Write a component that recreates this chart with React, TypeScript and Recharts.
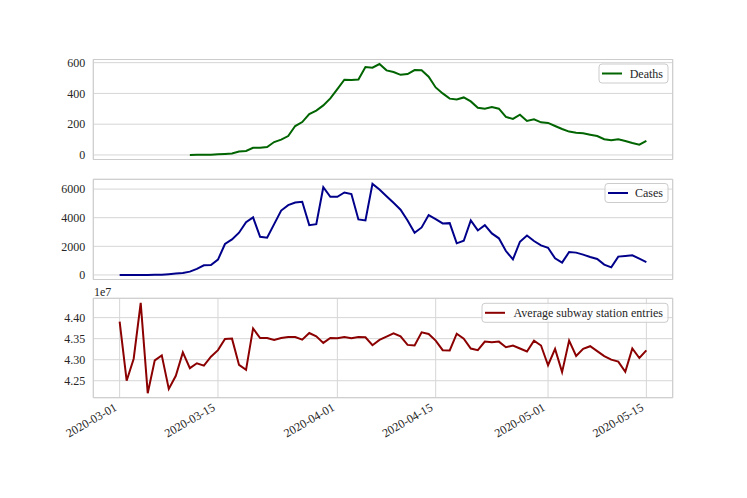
import React from "react";
import {
  LineChart,
  Line,
  XAxis,
  YAxis,
  CartesianGrid,
  ReferenceArea,
} from "recharts";

// ---------- data ----------
const startDate = "2020-03-01";
const dayCount = 76;

const xTickLabels = [
  "2020-03-01",
  "2020-03-15",
  "2020-04-01",
  "2020-04-15",
  "2020-05-01",
  "2020-05-15",
];

// Deaths begin on 2020-03-11 (first 10 days missing)
const deaths: (number | null)[] = [
  null, null, null, null, null, null, null, null, null, null,
  0, 1, 1, 2, 4, 7, 10, 23, 26, 47,
  47, 52, 84, 100, 123, 188, 214, 266, 288, 322,
  368, 428, 489, 487, 491, 571, 567, 591, 550, 539,
  521, 526, 552, 550, 509, 439, 400, 366, 361, 374,
  348, 307, 301, 312, 301, 247, 234, 262, 221, 232,
  212, 208, 188, 169, 152, 145, 141, 132, 123, 102,
  95, 102, 91, 78, 67, 91,
];

const cases: number[] = [
  0, 0, 1, 2, 3, 5, 8, 50, 100, 130,
  230, 420, 670, 700, 1070, 2160, 2485, 2950, 3690, 4020,
  2670, 2600, 3550, 4500, 4880, 5060, 5110, 3480, 3550, 6130,
  5460, 5460, 5760, 5650, 3880, 3810, 6365, 5970, 5500, 5040,
  4560, 3810, 2950, 3320, 4180, 3900, 3600, 3620, 2210, 2390,
  3810, 3110, 3480, 2900, 2560, 1670, 1090, 2320, 2760, 2370,
  2070, 1900, 1160, 860, 1600, 1560, 1420, 1250, 1120, 720,
  530, 1280, 1320, 1370, 1140, 900,
];

const subway: number[] = [
  43907000, 42500000, 43024000, 44352000, 42204000, 42985000, 43102000, 42305000, 42618000, 43173000,
  42798000, 42915000, 42860000, 43071000, 43227000, 43493000, 43501000, 42876000, 42759000, 43743000,
  43516000, 43516000, 43470000, 43516000, 43540000, 43540000, 43477000, 43634000, 43555000, 43400000,
  43516000, 43508000, 43540000, 43508000, 43540000, 43532000, 43345000, 43470000, 43548000, 43626000,
  43555000, 43352000, 43337000, 43649000, 43610000, 43454000, 43227000, 43220000, 43618000, 43501000,
  43266000, 43227000, 43430000, 43415000, 43430000, 43297000, 43337000, 43266000, 43196000, 43454000,
  43337000, 42868000, 43258000, 42704000, 43454000, 43087000, 43258000, 43321000, 43204000, 43087000,
  43001000, 42954000, 42712000, 43266000, 43040000, 43220000,
];

const deathsTicks = [0, 200, 400, 600];
const casesTicks = [0, 2000, 4000, 6000];
const subwayTicks = [42500000, 43000000, 43500000, 44000000];

const deathsName = "Deaths";
const casesName = "Cases";
const subwayName = "Average subway station entries";

// ---------- helpers ----------
const DAY = 86400000;
const t0 = Date.parse(startDate + "T00:00:00Z");
const xs = Array.from({ length: dayCount }, (_, i) => t0 + i * DAY);
const xTickValues = xTickLabels.map((d) => Date.parse(d + "T00:00:00Z"));
const fmtDate = (v: number) => new Date(v).toISOString().slice(0, 10);

const rows = xs.map((x, i) => ({
  x,
  deaths: deaths[i],
  cases: cases[i],
  subway: subway[i],
}));

function padDomain(vals: (number | null)[]): [number, number] {
  const v = vals.filter((a): a is number => a != null);
  const mn = Math.min(...v);
  const mx = Math.max(...v);
  const p = (mx - mn) * 0.05;
  return [mn - p, mx + p];
}
const xMin = xs[0];
const xMax = xs[xs.length - 1];
const xPad = (xMax - xMin) * 0.05;
const xDomain: [number, number] = [xMin - xPad, xMax + xPad];

// ---------- layout ----------
const W = 747;
const H = 498;
const PLOT_LEFT = 93.3;
const PLOT_RIGHT = 672.7;
const FONT = "'Liberation Serif', 'Times New Roman', serif";
const TEXT = "#262626";
const GRID = "#d6d6d6";
const SPINE = "#cccccc";

type PanelProps = {
  dataKey: string;
  color: string;
  ticks: number[];
  fmt: (v: number) => string;
  top: number;
  bottom: number;
  showX: boolean;
  domain: [number, number];
};

const DateTick = (props: any) => {
  const { x, y, payload } = props;
  const px = x - 2;
  const py = y + 12;
  return (
    <text
      x={px}
      y={py}
      transform={`rotate(-30, ${px}, ${py})`}
      textAnchor="end"
      fontSize={12}
      fontFamily={FONT}
      fill={TEXT}
    >
      {fmtDate(payload.value)}
    </text>
  );
};

function Panel({ dataKey, color, ticks, fmt, top, bottom, showX, domain }: PanelProps) {
  const xAxisH = showX ? 60 : 0;
  const chartH = showX ? H : bottom + 6;
  return (
    <div style={{ position: "absolute", left: 0, top: 0, width: W, height: chartH }}>
      <LineChart
        width={W}
        height={chartH}
        data={rows}
        margin={{ top, right: W - PLOT_RIGHT, left: 0, bottom: chartH - bottom - xAxisH }}
      >
        <CartesianGrid stroke={GRID} strokeWidth={1} />
        <XAxis
          dataKey="x"
          type="number"
          domain={xDomain}
          ticks={xTickValues}
          allowDataOverflow
          height={xAxisH}
          axisLine={false}
          tickLine={false}
          tickSize={0}
          tickMargin={0}
          tick={showX ? <DateTick /> : false}
          interval={0}
        />
        <YAxis
          type="number"
          domain={domain}
          ticks={ticks}
          allowDataOverflow
          width={PLOT_LEFT}
          axisLine={false}
          tickLine={false}
          tickSize={0}
          tickMargin={8}
          tickFormatter={fmt}
          interval={0}
          tick={{ fontSize: 12, fontFamily: FONT, fill: TEXT }}
        />
        <ReferenceArea
          x1={xDomain[0]}
          x2={xDomain[1]}
          y1={domain[0]}
          y2={domain[1]}
          fill="none"
          stroke={SPINE}
          strokeWidth={1}
          ifOverflow="visible"
        />
        <Line
          type="linear"
          dataKey={dataKey}
          stroke={color}
          strokeWidth={2}
          dot={false}
          isAnimationActive={false}
          connectNulls={false}
        />
      </LineChart>
    </div>
  );
}

function LegendBox({
  top,
  left,
  name,
  color,
}: {
  top: number;
  left: number;
  name: string;
  color: string;
}) {
  const right = 668;
  return (
    <g>
      <rect
        x={left}
        y={top}
        width={right - left}
        height={19}
        rx={3}
        ry={3}
        fill="#ffffff"
        fillOpacity={0.8}
        stroke="#cccccc"
        strokeWidth={1}
      />
      <line x1={left + 3} x2={left + 23} y1={top + 9.5} y2={top + 9.5} stroke={color} strokeWidth={2} />
      <text
        x={right - 5}
        y={top + 13.5}
        textAnchor="end"
        fontSize={12}
        fontFamily={FONT}
        fill={TEXT}
      >
        {name}
      </text>
    </g>
  );
}

export default function App() {
  const dDomain = padDomain(deaths);
  const cDomain = padDomain(cases);
  const sDomain = padDomain(subway);
  return (
    <div
      style={{
        position: "fixed",
        left: 0,
        top: 0,
        width: W,
        height: H,
        background: "#ffffff",
        overflow: "hidden",
      }}
    >
      <Panel
        dataKey="deaths"
        color="#006400"
        ticks={deathsTicks}
        fmt={(v) => String(v)}
        top={59.5}
        bottom={159.5}
        showX={false}
        domain={dDomain}
      />
      <Panel
        dataKey="cases"
        color="#00008b"
        ticks={casesTicks}
        fmt={(v) => String(v)}
        top={179.3}
        bottom={279.5}
        showX={false}
        domain={cDomain}
      />
      <Panel
        dataKey="subway"
        color="#8b0000"
        ticks={subwayTicks}
        fmt={(v) => (v / 1e7).toFixed(2)}
        top={298.3}
        bottom={397.7}
        showX={true}
        domain={sDomain}
      />
      <svg
        width={W}
        height={H}
        style={{ position: "absolute", left: 0, top: 0, pointerEvents: "none" }}
      >
        <text x={94} y={296} fontSize={12} fontFamily={FONT} fill={TEXT}>
          1e7
        </text>
        <LegendBox top={64} left={599} name={deathsName} color="#006400" />
        <LegendBox top={183.5} left={605} name={casesName} color="#00008b" />
        <LegendBox top={303.3} left={482} name={subwayName} color="#8b0000" />
      </svg>
    </div>
  );
}
